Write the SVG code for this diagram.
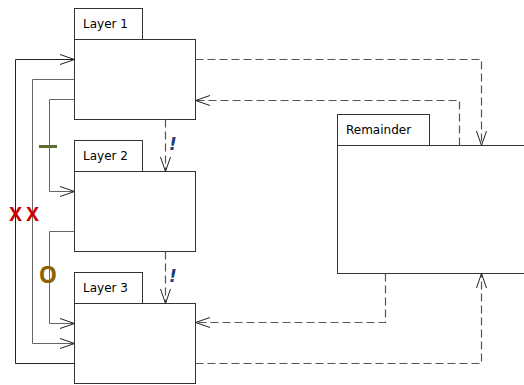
<svg xmlns="http://www.w3.org/2000/svg" width="524" height="385" viewBox="0 0 524 385">
  <style>
    .box { fill: #fff; stroke: #333; stroke-width: 1; }
    .name { font-family: "DejaVu Sans", Verdana, sans-serif; font-size: 12px; fill: #000; }
    .solid { fill: none; stroke: #222; stroke-width: 1; }
    .solid2 { fill: none; stroke: #666; stroke-width: 1; }
    .dash { fill: none; stroke: #555; stroke-width: 1.2; stroke-dasharray: 8 4; }
    .head { fill: none; stroke: #222; stroke-width: 1; }
    .bang { font-family: "DejaVu Sans", sans-serif; font-size: 17px; font-weight: bold; font-style: italic; fill: #1f3a78; }
    .cross { font-family: "Open Sans", "Liberation Sans", sans-serif; font-size: 19px; font-weight: bold; fill: #cc0000; }
  </style>
  <rect width="524" height="385" fill="#fff"/>

  <g id="layer1">
    <rect class="box" x="74.5" y="8.5" width="68" height="31"/>
    <rect class="box" x="74.5" y="39.5" width="121" height="80"/>
    <text class="name" x="83" y="28">Layer 1</text>
  </g>
  <g id="layer2">
    <rect class="box" x="74.5" y="140.5" width="68" height="31"/>
    <rect class="box" x="74.5" y="171.5" width="121" height="80"/>
    <text class="name" x="83" y="160">Layer 2</text>
  </g>
  <g id="layer3">
    <rect class="box" x="74.5" y="272.5" width="68" height="31"/>
    <rect class="box" x="74.5" y="303.5" width="121" height="80"/>
    <text class="name" x="83" y="292">Layer 3</text>
  </g>
  <g id="remainder">
    <rect class="box" x="337.5" y="114.5" width="92" height="31"/>
    <rect class="box" x="337.5" y="145.5" width="200" height="128"/>
    <text class="name" x="346" y="134">Remainder</text>
  </g>

  <g id="connectors">
    <!-- solid dependencies on the left -->
    <polyline class="solid" points="74.5,363.5 15.5,363.5 15.5,59.5 74.5,59.5"/>
    <polyline class="head" points="60,54.5 74.5,59.5 60,64.5"/>
    <polyline class="solid2" points="74.5,79.5 32.5,79.5 32.5,343.5 74.5,343.5"/>
    <polyline class="head" points="60,338.5 74.5,343.5 60,348.5"/>
    <polyline class="solid2" points="74.5,99.5 49.5,99.5 49.5,191.5 74.5,191.5"/>
    <polyline class="head" points="60,186.5 74.5,191.5 60,196.5"/>
    <polyline class="solid2" points="74.5,231.5 49.5,231.5 49.5,323.5 74.5,323.5"/>
    <polyline class="head" points="60,318.5 74.5,323.5 60,328.5"/>

    <!-- dashed dependencies between layers -->
    <polyline class="dash" points="165.5,119.5 165.5,171.5"/>
    <polyline class="head" points="160.5,157 165.5,171.5 170.5,157"/>
    <polyline class="dash" points="165.5,251.5 165.5,303.5"/>
    <polyline class="head" points="160.5,289 165.5,303.5 170.5,289"/>

    <!-- dashed dependencies with Remainder -->
    <polyline class="dash" points="195.5,59.5 481.5,59.5 481.5,145.5"/>
    <polyline class="head" points="476.5,131 481.5,145.5 486.5,131"/>
    <polyline class="dash" points="459.5,145.5 459.5,100.5 195.5,100.5"/>
    <polyline class="head" points="210,95.5 195.5,100.5 210,105.5"/>
    <polyline class="dash" points="385.5,273.5 385.5,322.5 195.5,322.5"/>
    <polyline class="head" points="210,317.5 195.5,322.5 210,327.5"/>
    <polyline class="dash" points="195.5,363.5 481.5,363.5 481.5,273.5"/>
    <polyline class="head" points="476.5,288 481.5,273.5 486.5,288"/>

    <!-- connector labels -->
    <line x1="39" y1="146.5" x2="57" y2="146.5" stroke="#5b7030" stroke-width="3"/>
    <text class="cross" x="15.5" y="221" text-anchor="middle">X</text>
    <text class="cross" x="32.5" y="221" text-anchor="middle">X</text>
    <text x="48" y="283" text-anchor="middle" font-family="Open Sans, sans-serif" font-size="23" font-weight="bold" fill="#8a6400">O</text>
    <text class="bang" x="169" y="150">!</text>
    <text class="bang" x="169" y="282">!</text>
  </g>
</svg>
